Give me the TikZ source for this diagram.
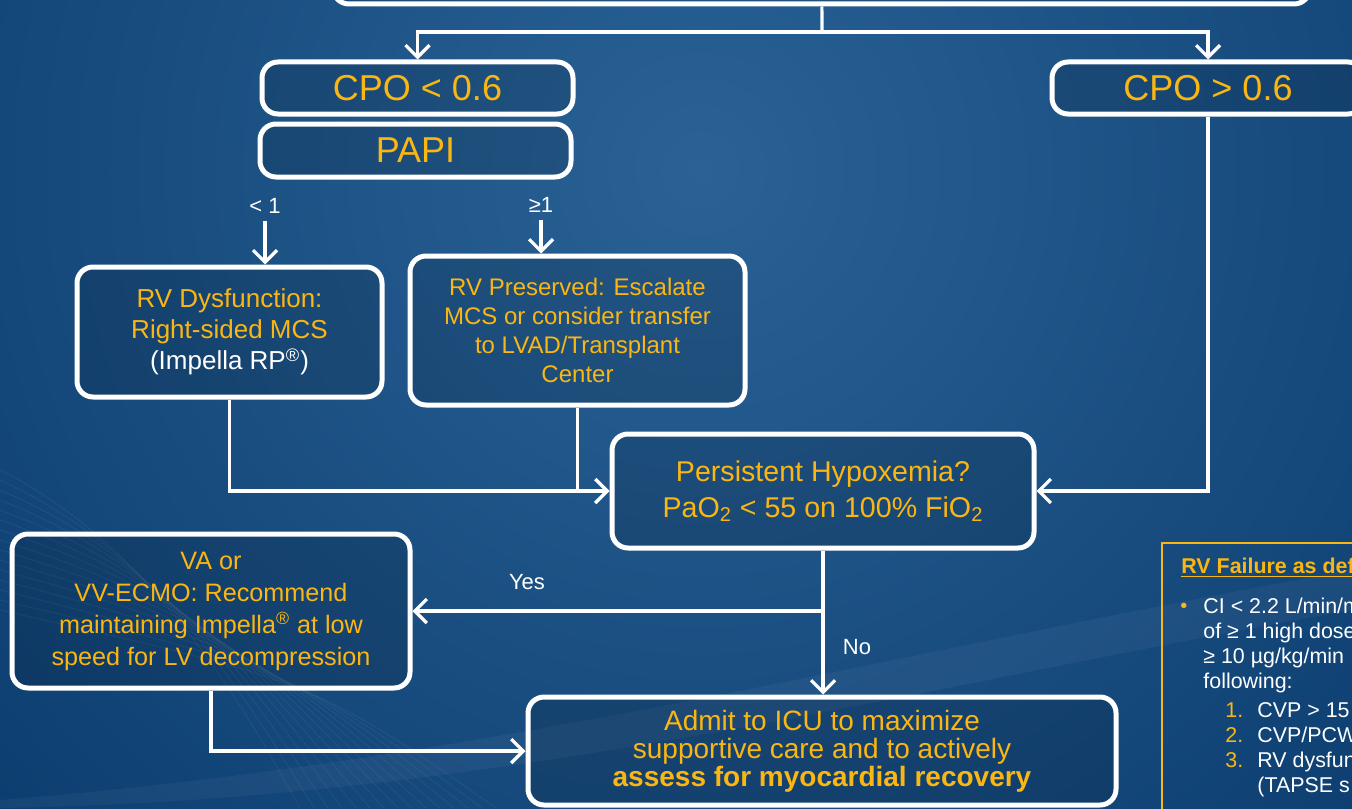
\documentclass[tikz,border=0pt]{standalone}
\usepackage{fontspec}
\setmainfont{Liberation Sans}
\usepackage{tikz}
\usetikzlibrary{arrows.meta,shapes}
\definecolor{bgdark}{RGB}{6,54,104}
\definecolor{bglight}{RGB}{42,98,150}
\definecolor{gold}{RGB}{250,182,18}
\tikzstyle{box}=[draw=white, line width=2.5pt, rounded corners=8pt
,fill=black, fill opacity=0.12, text opacity=1
,text=gold, align=center, inner sep=0pt
]
\tikzstyle{big box} = [box, font=\fontsize{18}{20}\selectfont]
\tikzstyle{tag} = [text=white, font=\fontsize{11}{13}\selectfont]
\tikzstyle{note} = [anchor=base west, inner sep=0pt, text=white, font=\fontsize{10.7}{12.5}\selectfont]
\tikzstyle{edge} = [draw=white, line width=1.6pt]
\tikzstyle{arrow} = [edge, -{Straight Barb[length=6pt,width=12pt]}]

\begin{document}
\begin{tikzpicture}[x=0.5pt, y=-0.5pt]
    % Draw the background
    \useasboundingbox (0,0) rectangle (1352,808);
    \clip (0,0) rectangle (1352,808);
    \fill[bgdark] (0,0) rectangle (1352,808);
    \shade[inner color=bglight, outer color=bgdark] (700,170) circle (1150);
    \foreach \i in {0,...,14}
        \draw[white, opacity=0.05, line width=0.5pt] (0,470+\i*10) .. controls (140+\i*12,540+\i*10) and (230+\i*6,680) .. (300+\i*14,808);
    \fill[white, opacity=0.04] (0,800) .. controls (500,760) and (900,650) .. (1352,570) -- (1352,610) .. controls (900,690) and (500,800) .. (0,808) -- cycle;

    % First we draw the boxes
    \node[box, minimum width=488.5pt, minimum height=64pt] (top) at (821.5,-60) {};
    \node[big box, minimum width=155.5pt, minimum height=26pt] (cpolow) at (417.5,88) {CPO < 0.6};
    \node[big box, minimum width=155.5pt, minimum height=26.5pt] (papi) at (415.5,150.5) {PAPI};
    \node[big box, minimum width=156pt, minimum height=26pt] (cpohigh) at (1208,88) {CPO > 0.6};
    \node[box, minimum width=152.5pt, minimum height=65pt, font=\fontsize{13}{15.5}\selectfont] (rvdys) at (229.5,332)
        {RV Dysfunction:\\ Right-sided MCS\\ \textcolor{white}{(Impella RP\textsuperscript{®})}};
    \node[box, minimum width=167.5pt, minimum height=74.5pt, font=\fontsize{12}{14.6}\selectfont] (rvpres) at (577.5,330.5)
        {RV Preserved: Escalate\\ MCS or consider transfer\\ to LVAD/Transplant\\ Center};
    \node[box, minimum width=211pt, minimum height=57pt, font=\fontsize{14.3}{18}\selectfont] (hypox) at (823,491)
        {Persistent Hypoxemia?\\ PaO\textsubscript{2} < 55 on 100\% FiO\textsubscript{2}};
    \node[box, minimum width=199pt, minimum height=77pt, font=\fontsize{12.6}{16}\selectfont] (va) at (211,611)
        {VA or\\ VV-ECMO: Recommend\\ maintaining Impella\textsuperscript{®} at low\\ speed for LV decompression};
    \node[box, minimum width=294pt, minimum height=54pt, font=\fontsize{14}{14}\selectfont] (icu) at (822,751)
        {Admit to ICU to maximize\\ supportive care and to actively\\ \textbf{assess for myocardial recovery}};

    % Labels on the branches
    \node[tag] (lt1) at (265,206) {< 1};
    \node[tag] (ge1) at (541,205) {≥1};
    \node[tag] (yeslbl) at (527,582) {Yes};
    \node[tag] (nolbl) at (857,647) {No};

    % Connect boxes with edges
    \coordinate (split) at (822,32);
    \coordinate (yes) at (hypox.south |- va);
    \path[edge] (top) -- (split);
    \foreach \dest in {cpolow, cpohigh}
        \path[arrow] (split) -| (\dest);
    \foreach \source in {cpohigh, rvdys}
        \path[arrow] (\source) |- (hypox);
    \path[edge] (rvpres) -- (rvpres |- hypox);
    \path[arrow] (lt1) -- (lt1 |- rvdys.north);
    \path[arrow] (ge1) -- (ge1 |- rvpres.north);
    \path[arrow] (hypox) -- (hypox |- icu.north);
    \path[arrow] (yes) -- (va);
    \path[arrow] (va) |- (icu);

    % RV failure definition
    \node[draw=gold, line width=1pt, minimum width=119.5pt, minimum height=160pt, inner sep=0pt] (rvfail) at (1281,703) {};
    \node[note, text=gold, font=\bfseries\fontsize{10.7}{12.5}\selectfont] (rvtitle) at (1181,573) {\underline{RV Failure as def}};
    \node[note, text=gold, font=\fontsize{10}{12}\selectfont] (bullet) at (1180,612) {•};
    \node[note] (ci) at (1203,613) {CI < 2.2 L/min/m};
    \node[note] (dose) at (1203,638) {of ≥ 1 high dose};
    \node[note] (mcg) at (1203,663) {≥ 10 µg/kg/min};
    \node[note] (follow) at (1203,688) {following:};
    \foreach \n/\y in {1/717, 2/742, 3/767}
        \node[note, text=gold] (num\n) at (1225,\y) {\n.};
    \node[note] (cvp) at (1257,717) {CVP > 15};
    \node[note] (pcw) at (1257,742) {CVP/PCW};
    \node[note] (dysf) at (1257,767) {RV dysfun};
    \node[note] (tapse) at (1257,792) {(TAPSE s};
\end{tikzpicture}
\end{document}
